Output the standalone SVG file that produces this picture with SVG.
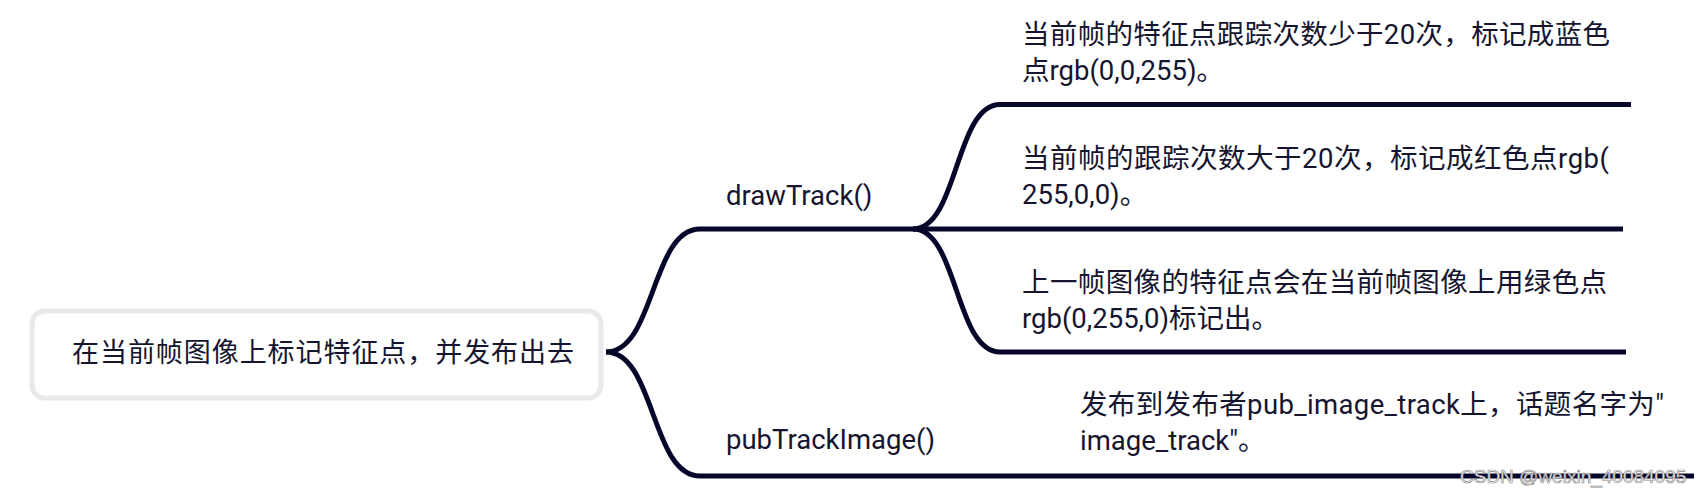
<svg xmlns="http://www.w3.org/2000/svg" width="1708" height="496" viewBox="0 0 1708 496">
<style>
.t{font-family:Roboto,"Noto Sans CJK SC",sans-serif;font-size:27.5px;fill:#15152f}
.r{font-size:27px}
.c{fill:none;stroke:#06062a;stroke-width:5;stroke-linecap:butt}
.box{fill:#ffffff;stroke:#e9e9ec;stroke-width:5}
.wm{font-family:"Liberation Sans",Arial,sans-serif;font-size:19px;fill:#ffffff;stroke:#8a8a8a;stroke-width:0.7}
</style>
<rect width="1708" height="496" fill="#ffffff"/>
<g id="connectors">
<path class="c" d="M606,352 C655,352 651,229 700,229 L1623,229"/>
<path class="c" d="M606,352 C655,352 651,476 700,476 L1694,476"/>
<path class="c" d="M913,229 C958,229 955,104.5 1000,104.5 L1631,104.5"/>
<path class="c" d="M913,229 C958,229 955,352 1000,352 L1626,352"/>
</g>
<g id="root">
<rect class="box" x="32" y="311" width="569" height="87" rx="13"/>
<text class="t r" x="72" y="361.5" textLength="502">在当前帧图像上标记特征点，并发布出去</text>
</g>
<g id="drawTrack">
<text class="t" x="726" y="204.5">drawTrack()</text>
</g>
<g id="pubTrackImage">
<text class="t" x="726" y="448.5">pubTrackImage()</text>
</g>
<g id="leaf1">
<text class="t" x="1022" y="43.5" textLength="588">当前帧的特征点跟踪次数少于20次，标记成蓝色</text>
<text class="t" x="1022" y="79.5">点rgb(0,0,255)。</text>
</g>
<g id="leaf2">
<text class="t" x="1022" y="167.5" textLength="587">当前帧的跟踪次数大于20次，标记成红色点rgb(</text>
<text class="t" x="1022" y="203.5">255,0,0)。</text>
</g>
<g id="leaf3">
<text class="t" x="1022" y="291.5" textLength="585">上一帧图像的特征点会在当前帧图像上用绿色点</text>
<text class="t" x="1022" y="327.5">rgb(0,255,0)标记出。</text>
</g>
<g id="leaf4">
<text class="t" x="1080" y="413.5" textLength="584">发布到发布者pub_image_track上，话题名字为"</text>
<text class="t" x="1080" y="449.5">image_track"。</text>
</g>
<text class="wm" x="1460" y="483">CSDN @weixin_40084095</text>
</svg>
